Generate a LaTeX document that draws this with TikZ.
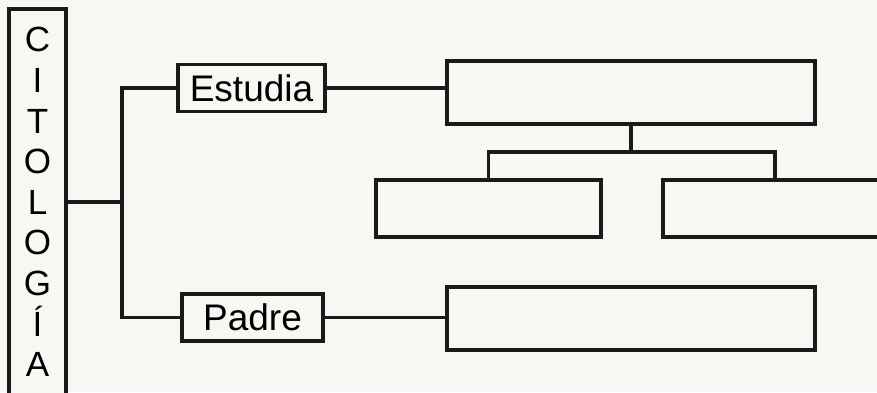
\documentclass[tikz,border=0pt]{standalone}
\usepackage{fontspec}
\setmainfont{Liberation Sans}
\definecolor{bg}{HTML}{F7F7F4}
\definecolor{ink}{HTML}{1A1A1A}
\begin{document}
\begin{tikzpicture}[x=1pt,y=-1pt,
  box/.style={draw=ink,line width=3.2pt,inner sep=0pt,fill=bg},
  lbl/.style={box,font=\fontsize{37}{40}\selectfont},
  conn/.style={draw=ink,line width=3.2pt}]
\fill[bg] (0,0) rectangle (877,392);
\useasboundingbox (0,0) rectangle (877,392);
\node[box,minimum width=57pt,minimum height=386pt,align=center,
  font=\fontsize{35}{40.6}\selectfont] (cit) at (37.5,202)
  {C\\I\\T\\O\\L\\O\\G\\Í\\A};
\node[lbl,minimum width=147pt,minimum height=47pt] (est) at (251.5,88) {Estudia};
\node[lbl,minimum width=141pt,minimum height=47pt] (pad) at (252.5,317.5) {Padre};
\node[box,minimum width=368pt,minimum height=63pt] (ba) at (631,92.5) {};
\node[box,minimum width=225pt,minimum height=57pt] (bb) at (488.5,208.5) {};
\node[box,minimum width=250pt,minimum height=57pt] (bc) at (788,208.5) {};
\node[box,minimum width=368pt,minimum height=63pt] (bd) at (631,318.5) {};
\coordinate (br) at (122,202);
\coordinate (j) at (631,152);
\coordinate (cc) at (775,180);
\draw[conn] (cit.east) -- (br);
\draw[conn] (est.west) -| (br) |- (pad.west);
\draw[conn] (est.east) -- (est.east -| ba.west);
\draw[conn] (pad.east) -- (pad.east -| bd.west);
\draw[conn] (ba.south) -- (j);
\draw[conn] (bb.north) |- (j) -| (cc);
\end{tikzpicture}
\end{document}
